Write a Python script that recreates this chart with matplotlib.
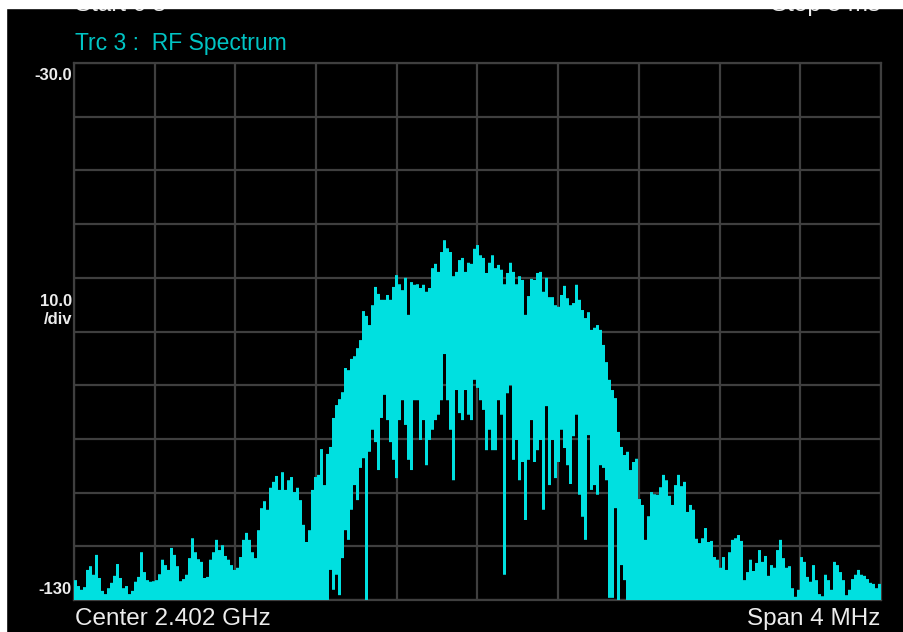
import numpy as np
import matplotlib
matplotlib.use("Agg")
from matplotlib import pyplot as plt
from matplotlib.patches import Rectangle

# RF spectrum, centre 2.402 GHz, span 4 MHz -> offsets in MHz
span_mhz = 4.0
ref_db = -30.0
bottom_db = -130.0
db_per_div = 10.0

# upper envelope of the trace (dBm), one value per display bin, left to right
trace_max = [
    -126.3, -127.4, -128.1, -127.6, -124.4, -123.7, -125.3, -121.6, -125.9, -128.3,
    -128.9, -127.8, -126.8, -125.5, -123.3, -125.9, -127.8, -127.4, -128.9, -128.3,
    -126.6, -125.7, -121.1, -124.8, -126.3, -126.6, -126.5, -126.3, -125.2, -122.5,
    -123.5, -124.4, -120.3, -121.6, -123.7, -126.5, -126.1, -125.3, -122.2, -118.5,
    -121.1, -122.4, -122.9, -125.9, -125.7, -122.5, -121.1, -118.8, -120.7, -119.8,
    -121.8, -122.5, -123.5, -124.4, -124.0, -122.0, -118.8, -117.5, -118.8, -121.1,
    -122.2, -117.0, -112.9, -111.6, -113.2, -109.1, -108.0, -106.9, -109.5, -106.2,
    -109.5, -107.7, -107.1, -109.9, -109.1, -111.4, -116.0, -119.2, -117.0, -109.5,
    -107.1, -106.7, -101.9, -108.6, -102.8, -101.5, -96.1, -93.7, -92.6, -91.3,
    -86.8, -87.2, -85.1, -84.6, -83.1, -81.6, -76.2, -77.1, -78.8, -75.1,
    -71.7, -73.0, -74.1, -74.1, -73.2, -74.1, -71.7, -69.5, -71.2, -72.3,
    -70.0, -76.9, -70.8, -71.3, -71.2, -71.9, -71.3, -72.6, -71.9, -68.2,
    -67.4, -68.9, -65.2, -63.0, -64.5, -65.2, -69.7, -68.9, -66.7, -66.3,
    -68.9, -67.2, -67.4, -64.6, -63.9, -65.8, -66.3, -69.1, -67.2, -65.8,
    -68.2, -67.6, -68.5, -71.2, -69.1, -67.2, -68.9, -71.2, -69.7, -70.4,
    -76.9, -73.4, -70.2, -70.4, -69.1, -68.9, -72.6, -70.0, -73.6, -73.6,
    -75.1, -75.4, -73.2, -71.5, -73.8, -75.1, -74.7, -71.3, -74.1, -76.0,
    -77.5, -76.4, -79.7, -79.3, -78.8, -79.7, -82.5, -85.7, -89.0, -90.9,
    -92.4, -98.7, -101.5, -103.0, -102.4, -105.8, -104.3, -103.7, -111.2, -112.3,
    -118.8, -114.4, -109.9, -110.3, -110.4, -109.0, -106.7, -107.7, -110.6, -112.3,
    -108.6, -106.7, -108.8, -108.0, -113.6, -112.3, -113.2, -118.6, -119.4, -118.5,
    -116.6, -119.2, -119.0, -122.0, -122.5, -124.0, -122.0, -124.4, -121.1, -118.8,
    -118.5, -117.9, -119.0, -126.3, -124.8, -122.5, -124.6, -123.1, -120.7, -122.9,
    -121.8, -125.5, -123.5, -124.0, -120.7, -118.8, -122.2, -124.0, -123.7, -127.8,
    -129.4, -128.1, -122.0, -122.9, -125.7, -126.6, -123.5, -126.3, -128.9, -129.3,
    -125.3, -126.3, -128.1, -122.9, -123.5, -124.8, -126.3, -129.1, -128.1, -126.1,
    -125.3, -124.4, -125.3, -125.5, -126.1, -126.8, -127.0, -127.8, -127.0,
]

# lower envelope of the trace in the occupied band (dBm)
band_min = [
    -124.4, -128.1, -125.3, -129.1, -122.2, -117.0, -118.8, -113.2, -108.6, -111.4,
    -105.4, -103.6, -130.0, -102.4, -98.3, -100.6, -105.8, -96.1, -91.8, -96.5,
    -100.6, -103.9, -107.3, -96.5, -92.8, -97.4, -103.9, -105.8, -92.8, -92.8,
    -100.2, -96.5, -104.9, -100.2, -98.3, -96.5, -95.5, -92.8, -84.2, -92.8,
    -98.3, -107.7, -90.9, -95.2, -96.5, -90.9, -95.5, -96.5, -89.0, -90.5,
    -92.8, -94.6, -102.1, -98.3, -102.1, -102.1, -92.8, -95.5, -125.3, -91.5,
    -90.0, -103.9, -100.2, -107.7, -104.3, -115.1, -103.9, -96.5, -104.3, -102.1,
    -100.2, -113.2, -93.9, -108.6, -100.2, -107.3, -104.3, -98.3, -101.7, -104.9,
    -108.4, -99.5, -95.5, -110.4, -114.5, -118.8, -99.3, -109.5, -108.6, -110.4,
    -104.9, -105.4, -107.7, -129.6, -129.6, -112.9, -130.0, -123.5, -126.3,
]
n_side = (len(trace_max) - len(band_min)) // 2
trace_min = [bottom_db] * n_side + band_min + [bottom_db] * (len(trace_max) - len(band_min) - n_side)

bg = "black"
grid_col = "#3f3f3f"
trace_col = "#00e0e0"
title_col = "#00c4c4"
label_col = "#ececec"

plt.rcParams['font.family'] = ['Liberation Sans', 'DejaVu Sans']

fig = plt.figure(figsize=(9.04, 6.32), dpi=100, facecolor=bg)
ax = fig.add_axes([74/904, 1 - 600/632, 807/904, 537/632])
ax.set_facecolor(bg)

edges = np.linspace(-span_mhz/2, span_mhz/2, len(trace_max) + 1)
ax.stairs(trace_max, edges, baseline=trace_min, fill=True, color=trace_col, lw=0, zorder=3)

ax.set_xlim(-span_mhz/2, span_mhz/2)
ax.set_ylim(bottom_db, ref_db)
ax.set_xticks(np.linspace(-span_mhz/2, span_mhz/2, 11))
ax.set_yticks(np.arange(bottom_db, ref_db + 1, db_per_div))
ax.tick_params(length=0, labelbottom=False, labelleft=False)
ax.grid(True, color=grid_col, lw=1.6)
ax.set_axisbelow(True)
for s in ax.spines.values():
    s.set_color(grid_col)
    s.set_linewidth(1.6)

# annotations like the analyzer screen
fig.text(75/904, 1 - 50/632, "Trc 3 :  RF Spectrum", color=title_col, fontsize=16.5, va="baseline")
fig.text(75/904, 1 - 11/632, "Start 0 s", color=label_col, fontsize=17.5, va="baseline")
fig.text(880/904, 1 - 11/632, "Stop 5 ms", color=label_col, fontsize=17.5, va="baseline", ha="right")
fig.text(75/904, 1 - 619/632, "Center 2.402 GHz", color=label_col, fontsize=17.5, va="center")
fig.text(880/904, 1 - 619/632, "Span 4 MHz", color=label_col, fontsize=17.5, va="center", ha="right")

fig.text(72/904, 1 - 76/632, "%.1f" % ref_db, color=label_col, fontsize=12, fontweight="bold", va="center", ha="right")
fig.text(72/904, 1 - 301/632, "%.1f" % db_per_div, color=label_col, fontsize=12, fontweight="bold", va="center", ha="right")
fig.text(72/904, 1 - 319/632, "/div", color=label_col, fontsize=12, fontweight="bold", va="center", ha="right")
fig.text(72/904, 1 - 589/632, "%d" % bottom_db, color=label_col, fontsize=12, fontweight="bold", va="center", ha="right")

# white screenshot margins on top and left
fig.add_artist(Rectangle((0, 1 - 8/632), 1, 8/632, transform=fig.transFigure, color="white", zorder=10))
fig.add_artist(Rectangle((0, 0), 6/904, 1, transform=fig.transFigure, color="white", zorder=10))

plt.savefig("out.png", dpi=100, facecolor=bg)
